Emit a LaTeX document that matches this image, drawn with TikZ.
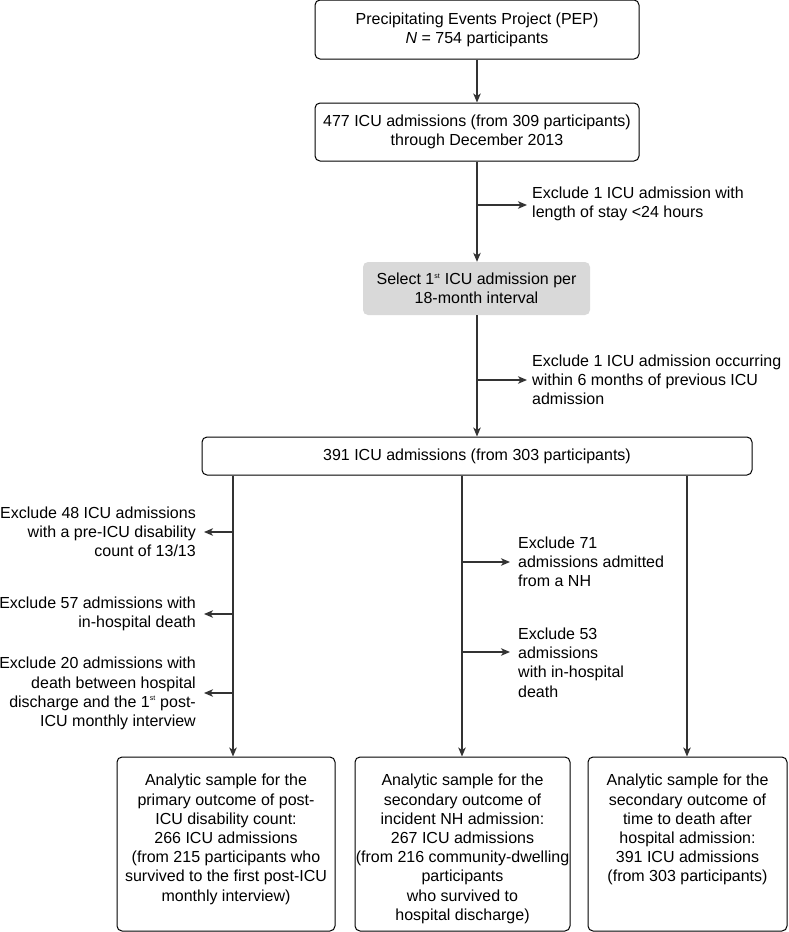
\documentclass[tikz,border=0pt]{standalone}
\usepackage{fontspec}
\setmainfont{Liberation Sans}
\usetikzlibrary{arrows.meta,calc}
\begin{document}
\begin{tikzpicture}[x=1pt,y=-1pt,
  every node/.style={font=\fontsize{16}{19.2}\selectfont, inner sep=0pt},
  box/.style={draw=black, line width=1pt, rounded corners=5pt, align=center},
  graybox/.style={fill=black!15, rounded corners=5pt, align=center},
  conn/.style={draw=black!80, line width=1.2pt},
  arr/.style={conn, -{Stealth[length=9pt,width=7.5pt,inset=2.5pt]}},
  lefttxt/.style={anchor=east, align=right},
  righttxt/.style={anchor=west, align=left},
]
\useasboundingbox (0,0) rectangle (788,932);

% main column
\node[box, minimum width=324pt, minimum height=59pt] (pep) at (477,29.5) {Precipitating Events Project (PEP)\\\textit{N} = 754 participants};
\node[box, minimum width=324pt, minimum height=58pt] (icu) at (477,132) {477 ICU admissions (from 309 participants)\\through December 2013};
\node[graybox, minimum width=227pt, minimum height=53pt] (sel) at (476.5,288.5) {Select 1\textsuperscript{\scriptsize st} ICU admission per\\18-month interval};
\node[box, minimum width=550pt, minimum height=38pt] (all) at (477,456) {391 ICU admissions (from 303 participants)};

% bottom boxes
\node[box, minimum width=218pt, minimum height=174pt] (b1) at (226,844) {};
\node[anchor=north, align=center] (t1) at (226,774) {Analytic sample for the\\primary outcome of post-\\ICU disability count:\\266 ICU admissions\\(from 215 participants who\\survived to the first post-ICU\\monthly interview)};
\node[box, minimum width=215pt, minimum height=174pt] (b2) at (462.5,844) {};
\node[anchor=north, align=center] (t2) at (462.5,774) {Analytic sample for the\\secondary outcome of\\incident NH admission:\\267 ICU admissions\\(from 216 community-dwelling\\participants\\who survived to\\hospital discharge)};
\node[box, minimum width=199pt, minimum height=174pt] (b3) at (687.5,844) {};
\node[anchor=north, align=center] (t3) at (687.5,774) {Analytic sample for the\\secondary outcome of\\time to death after\\hospital admission:\\391 ICU admissions\\(from 303 participants)};

% exclusion texts
\node[righttxt] (x1) at (532,203.5) {Exclude 1 ICU admission with\\length of stay <24 hours};
\node[righttxt] (x2) at (532,380) {Exclude 1 ICU admission occurring\\within 6 months of previous ICU\\admission};
\node[lefttxt] (x3) at (196,531.5) {Exclude 48 ICU admissions\\with a pre-ICU disability\\count of 13/13};
\node[lefttxt] (x4) at (196,614) {Exclude 57 admissions with\\in-hospital death};
\node[lefttxt] (x5) at (196,693.5) {Exclude 20 admissions with\\death between hospital\\discharge and the 1\textsuperscript{\scriptsize st} post-\\ICU monthly interview};
\node[righttxt] (x6) at (518,561.5) {Exclude 71\\admissions admitted\\from a NH};
\node[righttxt] (x7) at (518,662.5) {Exclude 53\\admissions\\with in-hospital\\death};

% coordinates
\coordinate (m1) at (477,205);
\coordinate (m2) at (477,380);
\coordinate (cl) at (233,0);
\coordinate (cm) at (462,0);
\coordinate (cr) at (687,0);
\coordinate (l1) at (233,532);
\coordinate (l2) at (233,614);
\coordinate (l3) at (233,693);
\coordinate (r1) at (462,562);
\coordinate (r2) at (462,652);

% main connectors
\draw[arr] (pep.south) -- (icu.north);
\draw[arr] (icu.south) -- (icu.south |- sel.north);
\draw[arr] (sel.south -| all.north) -- (all.north);
\draw[arr, shorten >=5pt] (m1) -- (m1 -| x1.west);
\draw[arr, shorten >=5pt] (m2) -- (m2 -| x2.west);

% columns
\draw[arr] (all.south -| cl) -- (cl |- b1.north);
\draw[arr] (all.south -| cm) -- (cm |- b2.north);
\draw[arr] (all.south -| cr) -- (cr |- b3.north);

% branches
\draw[arr, shorten >=8pt] (l1) -- (l1 -| x3.east);
\draw[arr, shorten >=8pt] (l2) -- (l2 -| x4.east);
\draw[arr, shorten >=8pt] (l3) -- (l3 -| x5.east);
\draw[arr, shorten >=8pt] (r1) -- (r1 -| x6.west);
\draw[arr, shorten >=8pt] (r2) -- (r2 -| x7.west);
\end{tikzpicture}
\end{document}
